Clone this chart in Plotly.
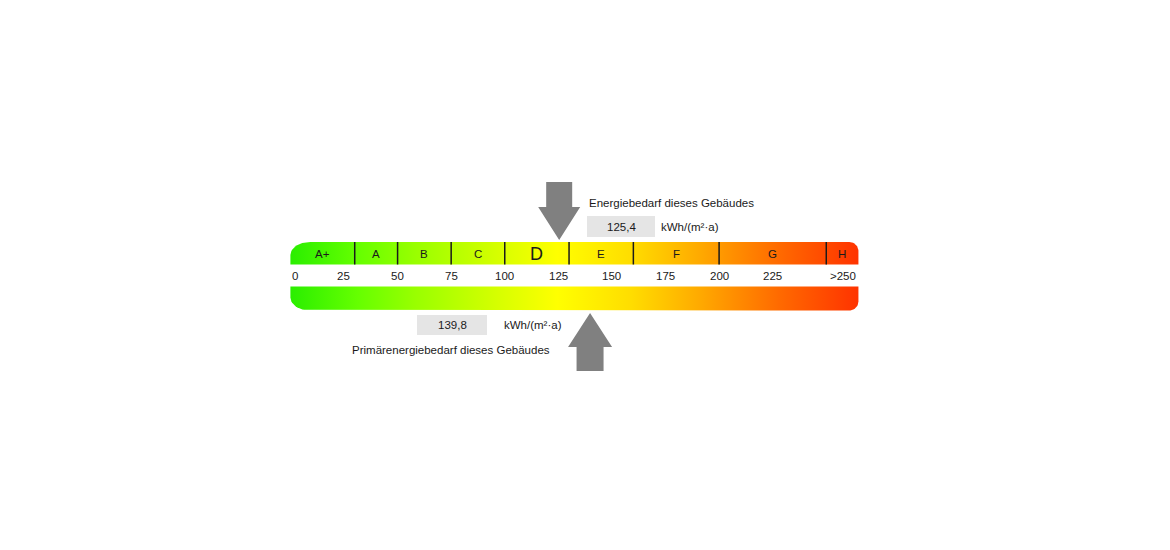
import numpy as np
import plotly.graph_objects as go

# ---------------- data ----------------
class_labels = ["A+", "A", "B", "C", "D", "E", "F", "G", "H"]
class_bounds = [0, 30, 50, 75, 100, 130, 160, 200, 250, 265]
tick_values = [0, 25, 50, 75, 100, 125, 150, 175, 200, 225, 265]
tick_labels = ["0", "25", "50", "75", "100", "125", "150", "175", "200", "225", ">250"]
endenergie = 125.4
primaerenergie = 139.8
endenergie_text = "125,4"
primaerenergie_text = "139,8"
unit_text = "kWh/(m²·a)"
title_top = "Energiebedarf dieses Gebäudes"
title_bottom = "Primärenergiebedarf dieses Gebäudes"
active_class = "D"
gradient_scale = [
    [0.00, "#2aee00"],
    [0.12, "#66ff00"],
    [0.22, "#99ff00"],
    [0.36, "#d4ff00"],
    [0.47, "#ffff00"],
    [0.60, "#ffdd00"],
    [0.72, "#ffaa00"],
    [0.86, "#ff6a00"],
    [1.00, "#ff3300"],
]

# ---------------- layout helpers ----------------
W, H = 1170, 550
OFF = 8            # page body margin
X0PX = 290.4       # screen pixel of value 0
PXU = 2.1435       # pixels per unit
FONT = "Liberation Sans, Arial, sans-serif"
TXT = "#1a1a1a"


def px2x(px):
    return (px - X0PX) / PXU


def dx(px):
    return px / PXU


def rounded_bar(x0, x1, y0, y1, r_tl, r_tr, r_br, r_bl, n=16):
    """Polygon (data x, pixel y) of a rectangle with elliptic corners; radii in px (rx, ry)."""
    xs, ys = [], []

    def arc(cx, cy, rx, ry, a0, a1):
        for t in np.linspace(a0, a1, n):
            xs.append(cx + dx(rx) * np.cos(t))
            ys.append(cy - ry * np.sin(t))

    rx, ry = r_tl
    arc(x0 + dx(rx), y0 + ry, rx, ry, np.pi, np.pi / 2)
    rx, ry = r_tr
    arc(x1 - dx(rx), y0 + ry, rx, ry, np.pi / 2, 0)
    rx, ry = r_br
    arc(x1 - dx(rx), y1 - ry, rx, ry, 0, -np.pi / 2)
    rx, ry = r_bl
    arc(x0 + dx(rx), y1 - ry, rx, ry, -np.pi / 2, -np.pi)
    xs.append(xs[0])
    ys.append(ys[0])
    return xs, ys


fig = go.Figure()

x_start, x_end = class_bounds[0], class_bounds[-1]
TOP_Y0, TOP_Y1 = 242, 264.5
BOT_Y0, BOT_Y1 = 286.5, 310.5

bx, by = rounded_bar(x_start, x_end, TOP_Y0, TOP_Y1, (20, 13), (9, 9), (0.01, 0.01), (0.01, 0.01))
fig.add_trace(go.Scatter(x=bx, y=by, mode="lines", fill="toself", line=dict(width=0),
                         fillgradient=dict(type="horizontal", colorscale=gradient_scale,
                                           start=x_start, stop=x_end),
                         hoverinfo="skip", showlegend=False))
bx, by = rounded_bar(x_start, x_end, BOT_Y0, BOT_Y1, (0.01, 0.01), (0.01, 0.01), (9, 9), (20, 13))
fig.add_trace(go.Scatter(x=bx, y=by, mode="lines", fill="toself", line=dict(width=0),
                         fillgradient=dict(type="horizontal", colorscale=gradient_scale,
                                           start=x_start, stop=x_end),
                         hoverinfo="skip", showlegend=False))

# class dividers
lx, ly = [], []
for b in class_bounds[1:-1]:
    lx += [b, b, None]
    ly += [TOP_Y0, TOP_Y1, None]
fig.add_trace(go.Scatter(x=lx, y=ly, mode="lines", line=dict(color="#1a1a1a", width=1.5),
                         hoverinfo="skip", showlegend=False))


def arrow(value, tip_y, head_len, head_hw, shaft_hw, shaft_len, down=True):
    s = 1 if down else -1
    base = tip_y - s * head_len
    end = base - s * shaft_len
    xs = [value, value - dx(head_hw), value - dx(shaft_hw), value - dx(shaft_hw),
          value + dx(shaft_hw), value + dx(shaft_hw), value + dx(head_hw), value]
    ys = [tip_y, base, base, end, end, base, base, tip_y]
    return xs, ys


ax_, ay_ = arrow(endenergie, 240, 33, 21, 13, 25, down=True)
fig.add_trace(go.Scatter(x=ax_, y=ay_, mode="lines", fill="toself", fillcolor="#808080",
                         line=dict(width=0), hoverinfo="skip", showlegend=False))
ax_, ay_ = arrow(primaerenergie, 313, 34, 22, 13.5, 24, down=False)
fig.add_trace(go.Scatter(x=ax_, y=ay_, mode="lines", fill="toself", fillcolor="#808080",
                         line=dict(width=0), hoverinfo="skip", showlegend=False))

shapes = [
    dict(type="rect", xref="x", yref="y", x0=px2x(587), x1=px2x(655), y0=216, y1=237,
         fillcolor="#e5e5e5", line=dict(width=0), layer="below"),
    dict(type="rect", xref="x", yref="y", x0=px2x(417), x1=px2x(487), y0=315, y1=335,
         fillcolor="#e5e5e5", line=dict(width=0), layer="below"),
]

annotations = []


def ann(x, y, text, size=11.5, xanchor="center"):
    annotations.append(dict(x=x, y=y, xref="x", yref="y", text=text, showarrow=False,
                            xanchor=xanchor, yanchor="middle",
                            font=dict(family=FONT, size=size, color=TXT)))


for i, lab in enumerate(class_labels):
    mid = (class_bounds[i] + class_bounds[i + 1]) / 2
    ann(mid, 253.5 if lab != active_class else 254, lab, size=18 if lab == active_class else 11.5)

for v, lab in zip(tick_values, tick_labels):
    if v == tick_values[0]:
        ann(v, 276, lab, xanchor="left")
    elif v == tick_values[-1]:
        ann(v, 276, lab, xanchor="right")
    else:
        ann(v, 276, lab)

ann(px2x(587), 203, title_top, xanchor="left")
ann(px2x(621), 226.5, endenergie_text)
ann(px2x(659), 226.5, unit_text, xanchor="left")
ann(px2x(452), 325, primaerenergie_text)
ann(px2x(502), 325, unit_text, xanchor="left")
ann(px2x(350), 350, title_bottom, xanchor="left")

fig.update_layout(
    width=W, height=H,
    margin=dict(l=0, r=0, t=0, b=0),
    paper_bgcolor="white", plot_bgcolor="white",
    xaxis=dict(range=[px2x(OFF), px2x(OFF + W)], visible=False, fixedrange=True),
    yaxis=dict(range=[OFF + H, OFF], visible=False, fixedrange=True),
    shapes=shapes, annotations=annotations,
    showlegend=False,
)

fig.write_html("out.html")
